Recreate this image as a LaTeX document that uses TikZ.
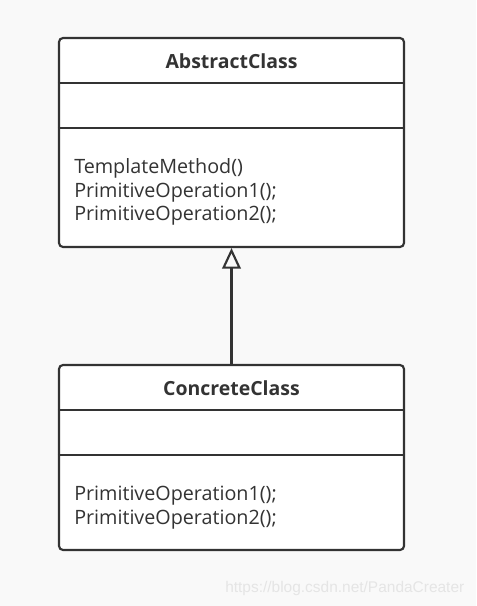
\documentclass[tikz,border=0pt]{standalone}
\usepackage{fontspec}
\setmainfont{Open Sans}
\newfontfamily\markfont{Liberation Sans}
\usetikzlibrary{arrows.meta,positioning}
\definecolor{umlgray}{HTML}{333333}
\definecolor{pagegray}{HTML}{F9F9F9}
\begin{document}
\begin{tikzpicture}[x=0.75pt, y=-0.75pt,
    every node/.style={font=\fontsize{14.8}{17.6}\selectfont, text=umlgray},
    classbox/.style={rectangle, draw=umlgray, fill=white, line width=1.6pt, rounded corners=3pt, minimum width=258.75pt},
    classname/.style={font=\fontsize{14.6}{17}\selectfont\bfseries},
    ops/.style={align=left, anchor=north west, inner sep=0pt},
    divider/.style={draw=umlgray, line width=1.6pt},
    inherit/.style={draw=umlgray, line width=1.6pt, -{Triangle[open, length=15.5pt, width=14pt]}},
    watermark/.style={font=\markfont\fontsize{11.6}{14}\selectfont, text=black!10, anchor=base east}
  ]
    \fill[pagegray] (0,0) rectangle (476,606);
    \useasboundingbox (0,0) rectangle (476,606);

    \node[classbox, minimum height=156.75pt] (abstract) at (231.5,142.5) {};
    \node[classbox, minimum height=138.75pt] (concrete) at (231.5,457.5) {};

    \draw[divider] (abstract.west |- 0,83) -- (abstract.east |- 0,83);
    \draw[divider] (abstract.west |- 0,128) -- (abstract.east |- 0,128);
    \draw[divider] (concrete.west |- 0,410) -- (concrete.east |- 0,410);
    \draw[divider] (concrete.west |- 0,455) -- (concrete.east |- 0,455);

    \node[classname] (abstractname) at (231.5,61) {AbstractClass};
    \node[classname] (concretename) at (231.5,388) {ConcreteClass};
    \node[ops] (abstractops) at (74,158.5) {TemplateMethod()\\PrimitiveOperation1();\\PrimitiveOperation2();};
    \node[ops] (concreteops) at (74,486) {PrimitiveOperation1();\\PrimitiveOperation2();};

    \draw[inherit] (concrete.north) -- (abstract.south);

    \node[watermark] (source) at (469,592) {https://blog.csdn.net/PandaCreater};
  \end{tikzpicture}
\end{document}
